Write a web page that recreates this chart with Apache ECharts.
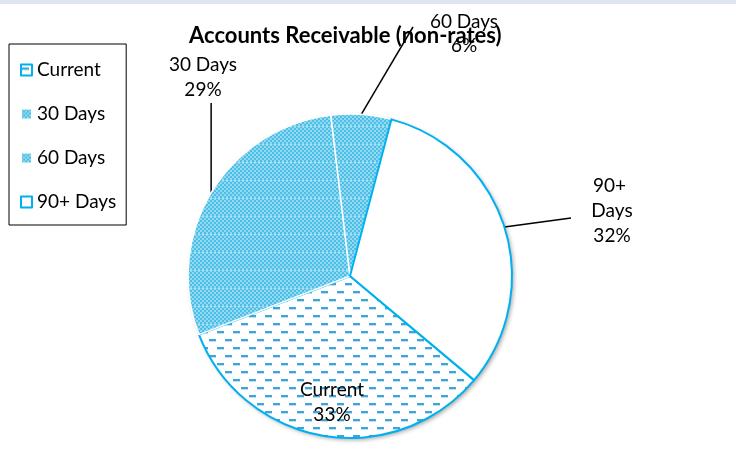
<!DOCTYPE html>
<html>
<head>
<meta charset="utf-8">
<script src="https://cdn.jsdelivr.net/npm/echarts@6/dist/echarts.min.js"></script>
<style>
  html, body { margin: 0; padding: 0; background: #fff; }
  #chart { width: 736px; height: 462px; }
  #band { position: absolute; left: 0; top: 0; width: 736px; height: 4px; background: #dde6f0; }
</style>
</head>
<body>
<div id="chart"></div>
<div id="band"></div>
<script>
// Ageing buckets and their share of receivables (%)
const categories = ['Current', '30 Days', '60 Days', '90+ Days'];
const shares = [33, 29, 6, 32];
const chartTitle = 'Accounts Receivable (non-rates)';

// Fill patterns drawn on small tiles
function checkerTile() {
  const c = document.createElement('canvas');
  c.width = 4; c.height = 18;
  const g = c.getContext('2d');
  g.fillStyle = '#92d9f1';
  g.fillRect(0, 0, 4, 18);
  g.fillStyle = '#4bbfe6';
  for (let y = 0; y < 18; y += 2) {
    for (let x = 0; x < 4; x += 2) {
      if (((x + y) / 2) % 2 === 0) g.fillRect(x, y, 2, 2);
    }
  }
  g.fillStyle = 'rgba(255,255,255,0.25)';
  g.fillRect(0, 0, 4, 1);
  return c;
}
function dashTile() {
  const c = document.createElement('canvas');
  c.width = 16; c.height = 16;
  const g = c.getContext('2d');
  g.fillStyle = '#ffffff';
  g.fillRect(0, 0, 16, 16);
  g.fillStyle = '#3ea6d6';
  g.fillRect(1, 3, 7, 2);
  g.fillRect(9, 11, 7, 2);
  g.fillStyle = 'rgba(62,166,214,0.35)';
  g.fillRect(1, 5, 7, 1);
  g.fillRect(9, 13, 7, 1);
  return c;
}

const blueEdge = '#00b0f0';
const checker = { image: checkerTile(), repeat: 'repeat' };
const dashes = { image: dashTile(), repeat: 'repeat' };
const sliceStyles = {
  'Current':  { color: dashes,  borderColor: blueEdge, borderWidth: 2 },
  '30 Days':  { color: checker, borderColor: '#ffffff', borderWidth: 1.5 },
  '60 Days':  { color: checker, borderColor: '#ffffff', borderWidth: 1.5 },
  '90+ Days': { color: '#ffffff', borderColor: blueEdge, borderWidth: 2 }
};

// Where each label block sits (centre) and where its leader line ends
const labelAt = {
  'Current':  [332, 402],
  '30 Days':  [203, 77],
  '60 Days':  [464, 34],
  '90+ Days': [612, 211]
};
function leaderEnd(name, start) {
  if (name === '30 Days') return [start[0], 103];
  if (name === '60 Days') return [413, 27];
  if (name === '90+ Days') return [571, 218];
  return null;
}

const fontFamily = 'Lato';

const mainData = categories.map((name, i) => {
  const item = { name: name, value: shares[i], itemStyle: sliceStyles[name] };
  if (name === 'Current') item.labelLine = { show: false };
  if (name === '60 Days') item.label = { lineHeight: 24 };
  if (name === '90+ Days') item.label = { width: 50, overflow: 'break' };
  return item;
});
const shadowData = categories.map((name, i) => ({ name: name, value: shares[i] }));

const chart = echarts.init(document.getElementById('chart'), null, { renderer: 'canvas' });
chart.setOption({
  animation: false,
  backgroundColor: '#ffffff',
  title: {
    text: chartTitle,
    left: 184,
    top: 20,
    textStyle: { fontFamily: fontFamily, fontWeight: 'bold', fontSize: 22, color: '#000' }
  },
  legend: {
    orient: 'vertical',
    left: 9,
    top: 44,
    data: categories,
    icon: 'rect',
    itemWidth: 11,
    itemHeight: 11,
    itemGap: 24,
    padding: [16, 10, 13, 11],
    borderColor: '#000',
    borderWidth: 1,
    selectedMode: false,
    textStyle: { fontFamily: fontFamily, fontSize: 19, color: '#000', lineHeight: 20 }
  },
  series: [
    {
      name: 'Receivables',
      type: 'pie',
      z: 3,
      center: [350, 276],
      radius: 162,
      startAngle: 320,
      clockwise: true,
      avoidLabelOverlap: false,
      silent: true,
      data: mainData,
      label: {
        show: true,
        position: 'outside',
        formatter: p => p.name + '\n' + p.value + '%',
        fontFamily: fontFamily,
        fontSize: 19,
        color: '#000',
        lineHeight: 25,
        align: 'center'
      },
      labelLine: { show: true, length: 20, length2: 10, lineStyle: { color: '#000', width: 1.5 } },
      labelLayout: function (params) {
        const name = categories[params.dataIndex];
        const p = labelAt[name];
        const out = { x: p[0], y: p[1], align: 'center', verticalAlign: 'middle' };
        const pts = params.labelLinePoints;
        if (pts && pts.length) {
          const s = pts[0];
          const e = leaderEnd(name, s);
          if (e) out.labelLinePoints = [s, [(s[0] + e[0]) / 2, (s[1] + e[1]) / 2], e];
        }
        return out;
      }
    },
    {
      name: 'Shadow',
      type: 'pie',
      z: 1,
      center: [350, 276],
      radius: 162,
      startAngle: 320,
      clockwise: true,
      silent: true,
      data: shadowData,
      label: { show: false },
      labelLine: { show: false },
      itemStyle: {
        color: '#ffffff',
        shadowBlur: 4,
        shadowColor: 'rgba(0,0,0,0.35)',
        shadowOffsetX: 2,
        shadowOffsetY: 2
      }
    }
  ]
});
</script>
</body>
</html>
